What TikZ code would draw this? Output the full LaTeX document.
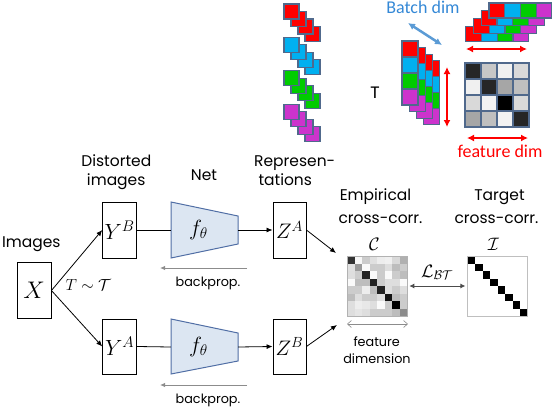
\documentclass[tikz,border=0pt]{standalone}
\usepackage{fix-cm}
\usepackage{fontspec}
\setmainfont{Poppins}
\newfontfamily\calib{Carlito}
\usetikzlibrary{arrows.meta,calc}
\definecolor{sqred}{RGB}{255,0,0}
\definecolor{sqblue}{RGB}{0,176,240}
\definecolor{sqgreen}{RGB}{0,204,0}
\definecolor{sqmag}{RGB}{204,51,204}
\definecolor{sqedge}{RGB}{80,105,140}
\definecolor{netfill}{RGB}{220,230,242}
\definecolor{netedge}{RGB}{80,110,165}
\definecolor{batchblue}{RGB}{91,155,213}
\definecolor{batchtext}{RGB}{52,136,214}
\begin{document}
\begin{tikzpicture}[x=1pt,y=-1pt,
  box/.style={draw,line width=0.9pt,inner sep=0pt},
  lbl/.style={anchor=base,inner sep=0pt,font=\fontsize{15.5}{15.5}\selectfont},
  small/.style={anchor=base,inner sep=0pt,font=\fontsize{12.8}{12.8}\selectfont},
  conn/.style={line width=0.8pt,-{Latex[length=6pt,width=5pt]}},
  back/.style={draw=black!45,line width=1pt,-{Latex[length=5pt,width=4.5pt]}},
  sq/.style={draw=sqedge,line width=1.1pt},
  redarr/.style={draw=red,line width=2.4pt,{Latex[length=7pt,width=7pt]}-{Latex[length=7pt,width=7pt]}},
  mathbig/.style={font=\fontsize{21}{21}\selectfont},
  mathy/.style={font=\fontsize{22}{22}\selectfont},
  mathx/.style={font=\fontsize{24}{24}\selectfont},
  calibtext/.style={anchor=base,inner sep=0pt,font=\calib\fontsize{18}{18}\selectfont},
  net/.style={fill=netfill,draw=netedge,line width=1pt}
]
\useasboundingbox (0,0) rectangle (555,413);

% ---------- top illustration ----------
\foreach \col [count=\g from 0] in {sqred,sqblue,sqgreen,sqmag} {
  \foreach \i in {3,2,1,0} {
    \filldraw[sq,fill=\col] ({284+7*\i},{4+33.4*\g+7.5*\i}) rectangle +(15,15);
  }
}
\foreach \k in {3,2,1,0} {
  \foreach \col [count=\c from 0] in {sqred,sqblue,sqgreen,sqmag} {
    \filldraw[sq,fill=\col] ({489-7.7*\k+15.7*\c},{3+7.7*\k}) rectangle +(15.7,15);
  }
}
\foreach \k in {3,2,1,0} {
  \foreach \col [count=\c from 0] in {sqred,sqblue,sqgreen,sqmag} {
    \filldraw[sq,fill=\col] ({402+7.2*\k},{41+6.6*\k+16*\c}) rectangle +(16,16);
  }
}
\foreach \vals [count=\r from 0] in {{15,78,94,85},{94,15,65,75},{85,95,0,85},{65,75,95,15}} {
  \foreach \v [count=\c from 0] in \vals {
    \filldraw[sq,fill=white!\v!black] ({465+16*\c},{63+16*\r}) rectangle +(16,16);
  }
}
\coordinate (ba0) at (408,23);
\coordinate (ba1) at (442,45);
\draw[draw=batchblue,line width=2.5pt,{Latex[length=7pt,width=7pt]}-{Latex[length=7pt,width=7pt]}] (ba0) -- (ba1);
\coordinate (ra0) at (466,49);
\coordinate (ra1) at (527,49);
\draw[redarr] (ra0) -- (ra1);
\coordinate (rv0) at (447,67);
\coordinate (rv1) at (447,127);
\draw[redarr] (rv0) -- (rv1);
\coordinate (rb0) at (467,138);
\coordinate (rb1) at (528,138);
\draw[redarr] (rb0) -- (rb1);
\node[calibtext,text=batchtext] (batchlbl) at (423,13) {Batch dim};
\node[calibtext] (Tlbl) at (375,98) {T};
\node[calibtext,text=red] (featlbl) at (500,157) {feature dim};

% ---------- labels ----------
\node[lbl] (imgs) at (31.3,247.7) {Images};
\node[lbl] (dist1) at (116.3,166.7) {Distorted};
\node[lbl] (dist2) at (116.2,185) {images};
\node[lbl] (netl) at (204,180) {Net};
\node[lbl,anchor=base west] (rep1) at (254,166.7) {Represen-};
\node[lbl,anchor=base west] (rep2) at (258.3,185) {tations};
\node[lbl] (emp1) at (375.5,200.7) {Empirical};
\node[lbl] (emp2) at (380.5,223.3) {cross-corr.};
\node[lbl] (tar1) at (499.5,200.7) {Target};
\node[lbl] (tar2) at (496.5,223.3) {cross-corr.};

% ---------- boxes ----------
\node[box,minimum width=34pt,minimum height=56pt,mathx] (X) at (34,290.5) {$X$};
\node[box,minimum width=34pt,minimum height=56pt,mathy] (YB) at (119.7,230) {$Y^B$};
\node[box,minimum width=34pt,minimum height=55pt,mathy] (YA) at (119.7,346.5) {$Y^A$};
\node[box,minimum width=33pt,minimum height=56pt,mathbig] (ZA) at (289.5,230) {$Z^A$};
\node[box,minimum width=33pt,minimum height=55pt,mathbig] (ZB) at (289.5,346.5) {$Z^B$};

\draw[net] (171,202) -- (171,258) -- (238,244) -- (238,216) -- cycle;
\draw[net] (171,319) -- (171,374) -- (238,361) -- (238,333) -- cycle;
\node[minimum width=67pt,minimum height=28pt,inner sep=0pt,mathy] (FA) at (204.5,230) {$f_\theta$\hspace*{12pt}};
\node[minimum width=67pt,minimum height=28pt,inner sep=0pt,mathy] (FB) at (204.5,347) {$f_\theta$\hspace*{12pt}};

\node[anchor=base,inner sep=0pt,font=\fontsize{16}{16}\selectfont] (Tdist) at (88.3,290) {$T\sim\mathcal{T}$};

\draw[conn] (X.east) -- (YB.west);
\draw[conn] (X.east) -- (YA.west);
\draw[line width=0.8pt] (YB.east) -- (FA.west);
\draw[line width=0.8pt] (YA.east) -- (FB.west);
\draw[conn] (FA.east) -- (ZA.west);
\draw[conn] (FB.east) -- (ZB.west);

\coordinate (bpA0) at (247,268);
\coordinate (bpA1) at (160,268);
\draw[back] (bpA0) -- (bpA1);
\node[small] (bpAt) at (208,286.7) {backprop.};
\coordinate (bpB0) at (247,385);
\coordinate (bpB1) at (160,385);
\draw[back] (bpB0) -- (bpB1);
\node[small] (bpBt) at (208,403) {backprop.};

% ---------- matrices ----------
\foreach \vals [count=\r from 0] in {
  {20,97,80,88,93,94,85,69},
  {88,60,98,80,80,87,74,80},
  {87,80,13,98,80,98,80,74},
  {98,74,74,13,80,87,87,98},
  {80,80,93,74,13,87,80,87},
  {74,87,80,80,87,7,74,80},
  {87,93,91,87,98,80,0,80},
  {87,90,87,80,80,80,74,55}} {
  \foreach \v [count=\c from 0] in \vals {
    \fill[white!\v!black] ({347+7.5*\c},{256+7.5*\r}) rectangle +(7.5,7.5);
  }
}
\node[draw=black!30,line width=0.6pt,minimum size=60pt,inner sep=0pt] (Cm) at (377,286) {};
\foreach \i in {0,...,7} {
  \fill[black] ({467.7+7.5*\i},{256+7.5*\i}) rectangle +(7.5,7.5);
}
\node[draw=black!25,line width=0.6pt,minimum size=60pt,inner sep=0pt] (Im) at (497.7,286) {};

\node[anchor=base,inner sep=0pt,font=\fontsize{18}{18}\selectfont] (Clbl) at (374.5,250) {$\mathcal{C}$};
\node[anchor=base,inner sep=0pt,font=\fontsize{18}{18}\selectfont] (Ilbl) at (493.5,250) {$\mathcal{I}$};
\node[anchor=base,inner sep=0pt,font=\fontsize{18}{18}\selectfont] (Llbl) at (437,277) {$\mathcal{L}_{\mathcal{B}\mathcal{T}}$};

\draw[draw=black!70,line width=0.9pt,shorten <=2pt,shorten >=2pt,{Latex[length=5pt,width=5pt]}-{Latex[length=5pt,width=5pt]}] (Cm.east) -- (Im.west);

\coordinate (cIn1) at (336,253);
\coordinate (cIn2) at (337,325);
\draw[conn] (ZA.east) -- (cIn1);
\draw[conn] (ZB.east) -- (cIn2);

\coordinate (fd0) at (347,324);
\coordinate (fd1) at (408,324);
\draw[draw=black!45,line width=0.6pt,{Straight Barb[length=4pt,width=7pt]}-{Straight Barb[length=4pt,width=7pt]}] (fd0) -- (fd1);
\node[small] (fdt1) at (376.7,346) {feature};
\node[small] (fdt2) at (377,363) {dimension};
\end{tikzpicture}
\end{document}
